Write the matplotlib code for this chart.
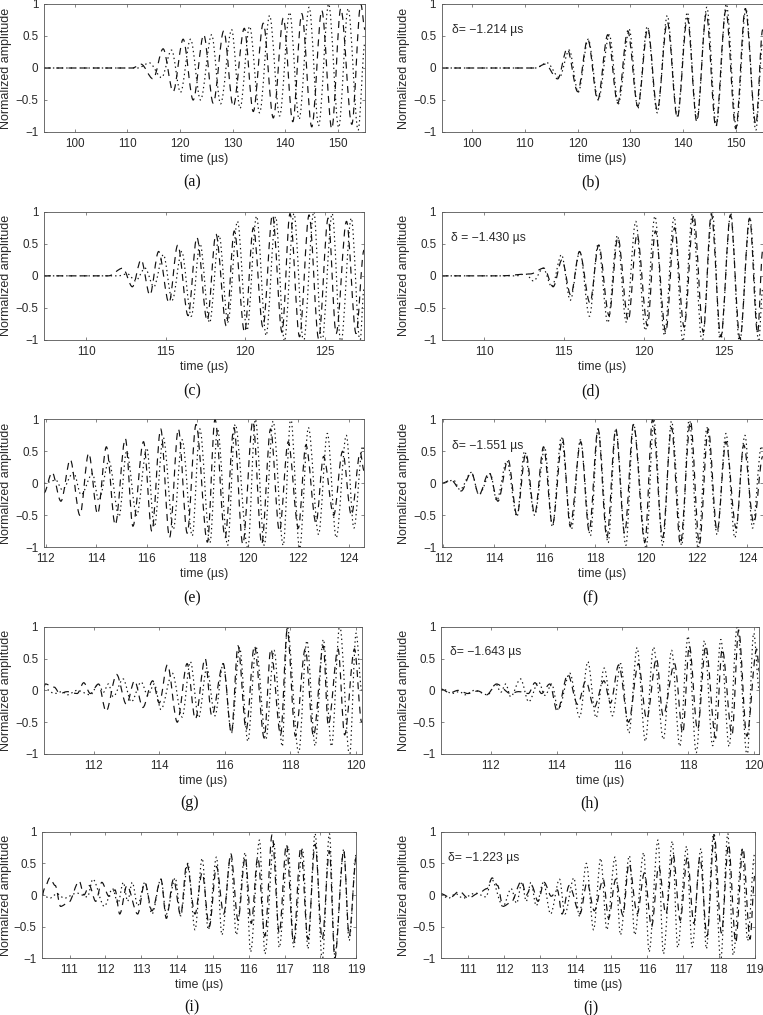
import matplotlib
matplotlib.use("Agg")
import matplotlib.pyplot as plt
from matplotlib.path import Path
from matplotlib.patches import PathPatch

W, H = 763, 1015
plt.rcParams['font.family'] = ['Liberation Sans', 'DejaVu Sans']
plt.rcParams['lines.scale_dashes'] = False
plt.rcParams['axes.unicode_minus'] = True

# ---- values: extrema of each trace (time in us, normalized amplitude)
ta_dash = [94.2,100,106,111,112.6,114.9,116.8,118.7,120.6,122.5,124.5,126.3,128.3,130.1,132.2,133.9,135.8,137.7,139.6,141.4,143.1,145,146.9,148.8,150.5,152.6,154.3,155.1]
ya_dash = [0,0,0,0,.06,-.17,.3,-.37,.45,-.5,.52,-.55,.58,-.6,.62,-.68,.7,-.78,.78,-.84,.85,-.92,.9,-.95,.93,-.88,1.0,.6]
ta_dot = [94.2,100,106,112,114.2,116.5,118.4,120.1,122,123.9,126,127.7,129.8,131.4,133.2,135.1,137,138.9,140.8,142.6,144.5,146.3,148.2,150.1,151.9,153.8,155.1]
ya_dot = [0,0,0,0,.08,-.15,.28,-.38,.45,-.5,.52,-.56,.6,-.63,.65,-.7,.82,-.75,.87,-.8,.95,-.9,1.0,-.93,.93,-.97,.4]
tb_dash = [94.2,100,106,112,113.8,116.2,118,120,121.9,123.8,125.7,127.6,129.5,131.4,133.3,135.1,137,138.9,140.8,142.6,144.4,146.2,148.1,150,151.8,153.8,155.1]
yb_dash = [0,0,0,0,.06,-.17,.3,-.37,.45,-.5,.52,-.55,.58,-.6,.62,-.66,.72,-.78,.78,-.84,.85,-.92,.9,-.95,.93,-.88,.6]

tc_dash = [107.35,109,110.8,111.4,112.3,112.9,113.45,114,114.55,115.2,115.75,116.4,116.95,117.6,118.15,118.8,119.3,119.95,120.5,121.1,121.7,122.3,122.8,123.4,124,124.6,125.2,125.7,126.35,126.95,127.45]
yc_dash = [0,0,0,0,.12,-.17,.25,-.3,.38,-.42,.48,-.62,.6,-.7,.65,-.78,.7,-.88,.75,-.8,.95,-.88,.97,-.95,.95,-.98,.9,-.9,.85,-.9,.4]
tc_dot = [107.35,109,111,112,112.6,113.1,113.7,114.25,114.85,115.4,116,116.6,117.15,117.75,118.35,118.9,119.5,120.1,120.7,121.3,121.9,122.45,123.05,123.65,124.3,124.8,125.45,126,126.65,127.2,127.45]
yc_dot = [0,0,0,0,.03,-.08,.12,-.17,.33,-.38,.38,-.63,.5,-.73,.63,-.72,.85,-.85,.93,-.93,.92,-1.02,.97,-1.03,1.0,-1.05,.97,-1.05,.9,-1.03,-.2]
td_dash = [107.35,109,111,112.9,113.75,114.33,114.88,115.43,115.98,116.63,117.18,117.83,118.38,119.03,119.58,120.23,120.73,121.38,121.93,122.53,123.13,123.73,124.23,124.83,125.43,126.03,126.63,127.13,127.45]
yd_dash = [0,0,0,.03,.12,-.17,.25,-.3,.38,-.42,.48,-.62,.6,-.7,.65,-.78,.7,-.88,.75,-.8,.95,-.88,.97,-.95,.95,-.98,.9,-.9,.4]

te_dash = [111.93,112.25,112.6,112.97,113.35,113.7,114.05,114.4,114.75,115.15,115.45,115.87,116.2,116.55,116.9,117.25,117.6,117.95,118.4,118.7,119.1,119.45,119.8,120.2,120.55,120.9,121.25,121.6,122,122.3,122.7,123,123.4,123.75,124.1,124.45,124.6]
ye_dash = [-.15,.17,-.28,.37,-.5,.47,-.48,.57,-.65,.7,-.67,.65,-.75,.85,-.85,.85,-.78,.92,-.92,1.0,-.85,.87,-.95,.97,-.95,.85,-.75,.65,-.7,.6,-.62,.42,-.5,.5,-.5,.48,.2]
te_dot = [111.93,112.4,112.65,113.1,113.4,113.85,114.1,114.5,114.9,115.2,115.6,116,116.3,116.65,117.05,117.4,117.8,118.1,118.5,118.8,119.2,119.5,120,120.3,120.65,121,121.4,121.7,122.05,122.4,122.8,123.15,123.5,123.9,124.2,124.55,124.6]
ye_dot = [0,.05,-.1,.17,-.18,.15,-.27,.35,-.52,.5,-.5,.55,-.68,.72,-.72,.68,-.82,.85,-.93,.85,-.97,.92,-1.02,1.0,-.97,.97,-.97,1.02,-1.02,.87,-.8,.78,-.85,.75,-.7,.58,.5]
tf_dash = [111.93,112.3,112.7,113.1,113.4,113.8,114.15,114.55,114.9,115.25,115.6,115.95,116.3,116.7,117,117.42,117.75,118.1,118.45,118.8,119.15,119.5,119.95,120.25,120.65,121,121.35,121.75,122.1,122.45,122.8,123.15,123.55,123.85,124.25,124.6]
yf_dash = [0,.05,-.12,.17,-.18,.17,-.28,.37,-.5,.47,-.48,.57,-.65,.7,-.67,.65,-.75,.85,-.85,.85,-.78,.92,-.92,1.0,-.85,.87,-.95,.97,-.95,.85,-.75,.65,-.7,.6,-.62,.42]

tg_dash = [110.48,110.53,110.8,110.97,111.2,111.5,111.7,111.9,112.15,112.38,112.7,113,113.25,113.5,113.8,114,114.25,114.55,114.85,115.1,115.4,115.6,115.95,116.2,116.4,116.65,116.9,117.2,117.4,117.7,117.9,118.15,118.45,118.7,119,119.15,119.45,119.65,119.95,120.17]
yg_dash = [.05,.1,.05,-.05,-.02,-.05,.12,-.05,.1,-.33,.25,-.22,.15,-.27,.15,-.2,.4,-.5,.42,-.45,.5,-.4,.42,-.67,.7,-.62,.7,-.75,.65,-.7,.95,-.72,.65,-.72,.7,-.55,.65,-.7,.65,-.5]
tg_dot = [110.48,110.55,110.8,111.05,111.2,111.5,111.9,112.15,112.3,112.45,112.6,112.9,113.15,113.45,113.65,113.85,114.05,114.4,114.7,114.95,115.2,115.45,115.7,115.95,116.2,116.45,116.7,116.95,117.25,117.5,117.75,117.9,118.25,118.5,118.75,119,119.25,119.5,119.8,120,120.17]
yg_dot = [0,.02,-.05,-.02,-.07,0,-.07,.1,-.03,.1,-.1,.18,-.18,.13,-.08,.1,-.3,.27,-.42,.45,-.43,.35,-.4,.42,-.67,.67,-.8,.68,-.77,.63,-.88,1.0,-.98,.78,-.87,.8,-.88,1.02,-1.03,.9,0]
th_dot = [110.48,110.55,110.8,111.05,111.2,111.5,111.9,112.15,112.3,112.45,112.6,112.9,113.15,113.45,113.65,113.85,114.05,114.4,114.7,114.95,115.2,115.45,115.7,115.95,116.2,116.45,116.7,116.95,117.25,117.5,117.75,118,118.25,118.5,118.75,119,119.25,119.5,119.8,120,120.17]
yh_dot = [0,.02,-.05,-.02,-.07,0,-.07,.1,-.03,.1,-.1,.18,-.18,.13,-.08,.1,-.3,.27,-.42,.45,-.43,.35,-.4,.42,-.67,.67,-.8,.68,-.77,.63,-.88,.85,-.98,.78,-.87,.8,-.88,1.02,-1.03,.9,0]
th_dash = [110.48,110.75,111.0,111.3,111.6,111.87,112.17,112.6,112.84,113.14,113.34,113.54,113.79,114.02,114.34,114.64,114.89,115.14,115.44,115.64,115.89,116.19,116.49,116.74,117.04,117.24,117.59,117.84,118.04,118.29,118.54,118.84,119.04,119.34,119.54,119.79,120.09,120.17]
yh_dash = [.02,-.04,0,-.05,-.01,-.07,.1,-.05,-.02,-.05,.12,-.05,.1,-.33,.25,-.22,.15,-.27,.15,-.2,.4,-.5,.42,-.45,.5,-.4,.42,-.67,.7,-.62,.7,-.75,.65,-.7,.95,-.72,.65,.3]

ti_dash = [110.24,110.3,110.45,110.6,110.75,110.97,111.27,111.4,111.55,111.73,111.9,112.1,112.27,112.4,112.6,112.9,113.1,113.3,113.55,113.7,113.9,114.1,114.27,114.5,114.7,114.9,115.1,115.3,115.5,115.7,115.9,116.07,116.25,116.45,116.65,116.85,117.05,117.25,117.45,117.65,117.85,118.05,118.25,118.4,118.65,118.8,119]
yi_dash = [0,.1,.27,.15,-.18,-.12,.22,0,.15,-.1,.2,-.02,.08,-.3,.15,-.3,.2,-.25,.25,-.37,.25,-.32,.5,-.3,.35,-.5,.45,-.3,.65,-.4,.6,-.45,.6,-.65,.95,-.6,.8,-.75,.75,-.7,.8,-.7,.7,-1.0,.7,-.65,.6]
ti_dot = [110.24,110.45,110.65,110.85,111.2,111.5,111.65,111.97,112.2,112.35,112.5,112.62,112.75,112.9,113.1,113.3,113.55,113.7,113.95,114.1,114.3,114.5,114.7,114.87,115.1,115.25,115.5,115.65,115.9,116.05,116.3,116.45,116.7,116.85,117.1,117.25,117.5,117.65,117.85,118.05,118.25,118.4,118.65,118.8,119]
yi_dot = [0,-.05,.02,-.05,.03,-.03,.25,-.18,.1,-.13,.2,-.1,.2,-.17,.2,-.3,.25,-.3,.27,-.33,.5,-.55,.58,-.55,.6,-.63,.62,-.63,.67,-.9,.87,-.93,.85,-.83,.77,-.82,.73,-.85,.97,-1.03,.97,-.95,.72,-.72,.65]
tj_dash = [110.24,110.5,110.75,111,111.3,111.52,111.67,111.82,111.97,112.19,112.49,112.62,112.77,112.95,113.12,113.32,113.49,113.62,113.82,114.12,114.32,114.52,114.77,114.92,115.12,115.32,115.49,115.72,115.92,116.12,116.32,116.52,116.72,116.92,117.12,117.3,117.47,117.67,117.87,118.07,118.27,118.47,118.67,118.87,119]
yj_dash = [.02,-.04,.06,-.05,.03,.1,.27,.15,-.18,-.12,.22,0,.15,-.1,.2,-.02,.08,-.3,.15,-.3,.2,-.25,.25,-.37,.25,-.32,.5,-.3,.35,-.5,.45,-.3,.65,-.4,.6,-.45,.6,-.65,.95,-.6,.8,-.75,.75,-.7,.3]

x_ticks_1 = [100,110,120,130,140,150]
x_ticks_2 = [110,115,120,125]
x_ticks_3 = [112,114,116,118,120,122,124]
x_ticks_4 = [112,114,116,118,120]
x_ticks_5 = [111,112,113,114,115,116,117,118,119]
y_ticks = [-1,-.5,0,.5,1]
y_tick_labels = ['\u22121','\u22120.5','0','0.5','1']
captions = ['(a)','(b)','(c)','(d)','(e)','(f)','(g)','(h)','(i)','(j)']
delta_texts = {'b':'\u03b4= \u22121.214 \u00b5s','d':'\u03b4 = \u22121.430 \u00b5s','f':'\u03b4= \u22121.551 \u00b5s','h':'\u03b4= \u22121.643 \u00b5s','j':'\u03b4= \u22121.223 \u00b5s'}

# ---- layout (pixels)
panels = [
 ('a',(44,365,4,132),(94.2,155.1),x_ticks_1,(ta_dash,ya_dash),(ta_dot,ya_dot),(192,182),None),
 ('b',(441.7,762.7,4,132),(94.2,155.1),x_ticks_1,(tb_dash,yb_dash),(ta_dot,ya_dot),(590.7,182),(451.7,30)),
 ('c',(44,364,211.7,340),(107.35,127.45),x_ticks_2,(tc_dash,yc_dash),(tc_dot,yc_dot),(192,391),None),
 ('d',(441.7,762.7,211.7,340),(107.35,127.45),x_ticks_2,(td_dash,yd_dash),(tc_dot,yc_dot),(590.7,391),(450.7,238)),
 ('e',(44,364,419.3,547.3),(111.93,124.6),x_ticks_3,(te_dash,ye_dash),(te_dot,ye_dot),(192,598),None),
 ('f',(441.7,762.7,419.3,547.3),(111.93,124.6),x_ticks_3,(tf_dash,yf_dash),(te_dot,ye_dot),(590.7,598),(451.7,445.7)),
 ('g',(43.7,361.7,626.7,754),(110.48,120.17),x_ticks_4,(tg_dash,yg_dash),(tg_dot,yg_dot),(190,803),None),
 ('h',(441,759.3,626.7,754),(110.48,120.17),x_ticks_4,(th_dash,yh_dash),(th_dot,yh_dot),(590,803),(450,652)),
 ('i',(42.3,356.3,831.7,958.3),(110.24,119),x_ticks_5,(ti_dash,yi_dash),(ti_dot,yi_dot),(192,1007.7),None),
 ('j',(441,754.7,831.7,958.3),(110.24,119),x_ticks_5,(tj_dash,yj_dash),(ti_dot,yi_dot),(590.7,1007.7),(448,857.7)),
]


def trace(ax, t, y, dashes):
    """Stroke the read extrema as a curve with flat tangents at every extremum."""
    verts = [(t[0], y[0])]
    codes = [Path.MOVETO]
    for k in range(1, len(t)):
        dt = t[k] - t[k-1]
        verts += [(t[k-1] + 0.33*dt, y[k-1]), (t[k] - 0.33*dt, y[k]), (t[k], y[k])]
        codes += [Path.CURVE4]*3
    ax.add_patch(PathPatch(Path(verts, codes), fill=False, edgecolor='#111111',
                           linewidth=0.85, linestyle=(0, dashes), capstyle='butt'))


fig = plt.figure(figsize=(W/100, H/100), dpi=100)
edge = '#555555'
txt = '#2a2a2a'
for i, (key, (l,r,t,b), xlim, xt, dash, dot, cap, dxy) in enumerate(panels):
    ax = fig.add_axes([l/W, 1-b/H, (r-l)/W, (b-t)/H])
    trace(ax, dash[0], dash[1], (5,3.8))
    trace(ax, dot[0], dot[1], (1.0,2.2))
    ax.set_xlim(*xlim); ax.set_ylim(-1,1)
    ax.set_xticks(xt); ax.set_yticks(y_ticks); ax.set_yticklabels(y_tick_labels)
    ax.tick_params(direction='in', top=True, right=True, length=2.2, width=0.5,
                   labelsize=8.4, color=edge, labelcolor=txt, pad=4)
    for s in ax.spines.values():
        s.set_linewidth(0.6); s.set_color(edge)
    ax.set_xlabel('time (\u00b5s)', fontsize=8.8, color=txt, labelpad=2.2)
    ax.set_ylabel('Normalized amplitude', fontsize=9, color=txt)
    ylab_px = 12.5 if key in 'acegi' else 409.5
    ax.yaxis.set_label_coords((ylab_px-l)/(r-l), 0.5)
    fig.text(cap[0]/W, 1-cap[1]/H, captions[i], family='Liberation Serif', fontsize=11.5, color='#111111', ha='center', va='center')
    if dxy:
        fig.text(dxy[0]/W, 1-dxy[1]/H, delta_texts[key], fontsize=8.8, color=txt, ha='left', va='center')

fig.savefig('out.png', dpi=100)
